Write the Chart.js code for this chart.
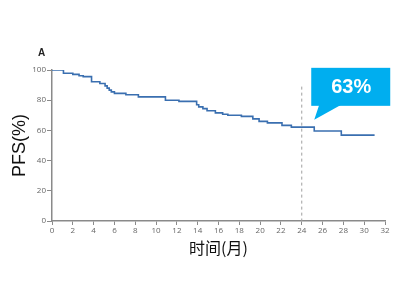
<!DOCTYPE html>
<html>
<head>
<meta charset="utf-8">
<script src="https://cdn.jsdelivr.net/npm/chart.js@4"></script>
<style>
  html, body { margin: 0; padding: 0; background: #fff; }
  #wrap { width: 400px; height: 300px; }
</style>
</head>
<body>
<div id="wrap"><canvas id="km" width="400" height="300"></canvas></div>
<script>
// Kaplan-Meier PFS curve (months, %)
const months = [0, 1.1, 2.0, 2.6, 3.0, 3.8, 4.6, 5.1, 5.3, 5.5, 5.7, 6.0, 7.1, 8.3, 10.9, 12.2, 13.9, 14.1, 14.5, 14.9, 15.7, 16.4, 16.9, 18.2, 19.3, 19.9, 20.7, 22.1, 23.0, 25.2, 27.8, 31.0];
const pfs = [100, 97.8, 97.1, 96.2, 95.6, 92.2, 91.1, 89.5, 88.0, 86.7, 85.5, 84.5, 83.6, 82.2, 80.0, 79.2, 77.0, 75.6, 74.4, 73.0, 71.6, 70.7, 70.0, 69.3, 67.6, 66.0, 65.0, 63.3, 62.2, 59.6, 56.9, 56.9];
const xTicks = [0, 2, 4, 6, 8, 10, 12, 14, 16, 18, 20, 22, 24, 26, 28, 30, 32];
const yTicks = [0, 20, 40, 60, 80, 100];
const markMonth = 24;
const markLabel = '63%';

const axisGray = '#8a8a8a';
const tickFont = { family: 'Open Sans', size: 8 };

const overlay = {
  id: 'overlay',
  afterDatasetsDraw(chart) {
    const { ctx, scales: { x, y } } = chart;
    // dashed marker at 24 months
    const mx = x.getPixelForValue(markMonth);
    ctx.save();
    ctx.strokeStyle = '#a0a0a0';
    ctx.lineWidth = 1;
    ctx.setLineDash([3, 3]);
    ctx.beginPath();
    ctx.moveTo(mx, y.getPixelForValue(89));
    ctx.lineTo(mx, y.getPixelForValue(0));
    ctx.stroke();
    ctx.setLineDash([]);

    // callout box
    const tipX = x.getPixelForValue(25.2);
    const tipY = y.getPixelForValue(67);
    const left = tipX - 3, top = tipY - 52, w = 79, h = 38;
    ctx.fillStyle = '#00aeef';
    ctx.fillRect(left, top, w, h);
    ctx.beginPath();
    ctx.moveTo(left + 8, top + h - 1);
    ctx.lineTo(left + 30, top + h - 1);
    ctx.lineTo(tipX, tipY);
    ctx.closePath();
    ctx.fill();
    ctx.fillStyle = '#fff';
    ctx.font = 'bold 20px "Liberation Sans", Arial, sans-serif';
    ctx.textAlign = 'center';
    ctx.textBaseline = 'middle';
    ctx.fillText(markLabel, left + 40, top + 20);

    // panel letter
    ctx.fillStyle = '#222';
    ctx.font = 'bold 10px "Liberation Sans", Arial, sans-serif';
    ctx.textAlign = 'left';
    ctx.fillText('A', 38, 53);
    ctx.restore();
  }
};

new Chart(document.getElementById('km'), {
  type: 'line',
  data: {
    datasets: [{
      data: months.map((m, i) => ({ x: m, y: pfs[i] })),
      stepped: true,
      borderColor: '#3a6fb0',
      borderWidth: 1.6,
      pointRadius: 0,
      fill: false
    }]
  },
  options: {
    responsive: false,
    animation: false,
    layout: { padding: { left: 0, right: 15, top: 70, bottom: 34 } },
    plugins: { legend: { display: false }, tooltip: { enabled: false } },
    scales: {
      x: {
        type: 'linear',
        min: 0,
        max: 32,
        afterBuildTicks: (s) => { s.ticks = xTicks.map(v => ({ value: v })); },
        afterFit: (s) => { s.height = 45; },
        ticks: { font: tickFont, color: '#666', padding: 1, maxRotation: 0, autoSkip: false },
        grid: { drawOnChartArea: false, tickLength: 4, color: axisGray },
        border: { color: axisGray, width: 1.5 },
        title: {
          display: true,
          text: '时间(月)',
          color: '#111',
          font: { family: 'Noto Sans CJK SC', size: 16 },
          padding: { top: 0, bottom: 8 }
        }
      },
      y: {
        min: 0,
        max: 100,
        afterBuildTicks: (s) => { s.ticks = yTicks.map(v => ({ value: v })); },
        afterFit: (s) => { s.width = 52; },
        ticks: { font: tickFont, color: '#666', padding: 1 },
        grid: { drawOnChartArea: false, tickLength: 5, color: axisGray },
        border: { color: axisGray, width: 1.5 },
        title: {
          display: true,
          text: 'PFS(%)',
          color: '#111',
          font: { family: 'Liberation Sans', size: 18 },
          padding: { top: 9, bottom: 0 }
        }
      }
    }
  },
  plugins: [overlay]
});
</script>
</body>
</html>
